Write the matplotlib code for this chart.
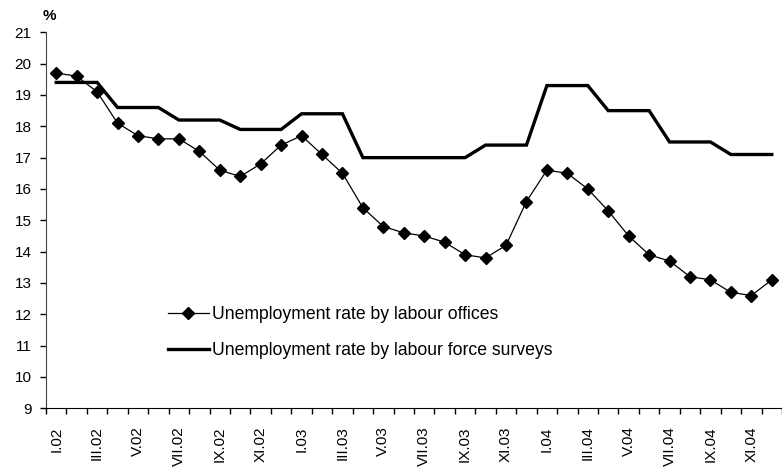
import matplotlib
matplotlib.use('Agg')
import matplotlib.pyplot as plt
import numpy as np

plt.rcParams['font.family'] = ['Liberation Sans', 'DejaVu Sans']

# ── Datos ────────────────────────────────────────────────────────────────────
meses = ['I', 'II', 'III', 'IV', 'V', 'VI', 'VII', 'VIII', 'IX', 'X', 'XI', 'XII']
anios = ['02', '03', '04']
etiquetas = [f'{m}.{a}' for a in anios for m in meses]

# tasa de desempleo según oficinas de empleo (mensual)
oficinas = [19.7, 19.6, 19.1, 18.1, 17.7, 17.6, 17.6, 17.2, 16.6, 16.4, 16.8, 17.4,
            17.7, 17.1, 16.5, 15.4, 14.8, 14.6, 14.5, 14.3, 13.9, 13.8, 14.2, 15.6,
            16.6, 16.5, 16.0, 15.3, 14.5, 13.9, 13.7, 13.2, 13.1, 12.7, 12.6, 13.1]

# tasa de desempleo según encuestas de fuerza laboral (trimestral, repetida)
encuestas = [19.4, 19.4, 19.4, 18.6, 18.6, 18.6, 18.2, 18.2, 18.2, 17.9, 17.9, 17.9,
             18.4, 18.4, 18.4, 17.0, 17.0, 17.0, 17.0, 17.0, 17.0, 17.4, 17.4, 17.4,
             19.3, 19.3, 19.3, 18.5, 18.5, 18.5, 17.5, 17.5, 17.5, 17.1, 17.1, 17.1]

label_of = 'Unemployment rate by labour offices'
label_lfs = 'Unemployment rate by labour force surveys'

# ── Figura ───────────────────────────────────────────────────────────────────
W, H = 782, 470
fig = plt.figure(figsize=(W / 100, H / 100), dpi=100)
ax_left, ax_bottom, ax_top = 46 / W, (H - 408.3) / H, (H - 32.3) / H
ax = fig.add_axes([ax_left, ax_bottom, 1 - ax_left, ax_top - ax_bottom])

x = np.arange(len(etiquetas))
ax.plot(x, oficinas, color='black', linewidth=0.9, marker='D', markersize=6.5,
        label=label_of, clip_on=False, zorder=3)
ax.plot(x, encuestas, color='black', linewidth=2.4, label=label_lfs,
        solid_joinstyle='miter', zorder=2)

ax.set_ylim(9, 21)
ax.set_yticks(range(9, 22))
ax.set_xlim(-0.5, -0.5 + (W - 46) / 20.69)

# marcas en los límites de categoría, etiquetas cada dos meses
ax.set_xticks(np.arange(-0.5, len(etiquetas) + 0.5, 1))
ax.set_xticklabels([])
ax.set_xticks(x[::2], minor=True)
ax.set_xticklabels(etiquetas[::2], minor=True, rotation=90, fontsize=11)
ax.tick_params(axis='x', which='major', length=4.5, width=1, direction='out')
ax.tick_params(axis='x', which='minor', length=0, pad=13)
ax.tick_params(axis='y', length=4.5, width=1, direction='out', labelsize=11, pad=6)

for s in ['top', 'right']:
    ax.spines[s].set_visible(False)
ax.spines['left'].set_color('#444444')
ax.spines['bottom'].set_color('black')

leg = ax.legend(loc='upper left', bbox_to_anchor=((168 - 46) / (W - 46), 0.272),
                frameon=False, fontsize=12.7, handlelength=2.3, handletextpad=0.2,
                borderpad=0, borderaxespad=0, labelspacing=1.08)

fig.text(49.5 / W, 1 - 16.5 / H, '%', ha='center', va='center',
         fontsize=11, fontweight='bold')

fig.savefig('out.png', dpi=100)
